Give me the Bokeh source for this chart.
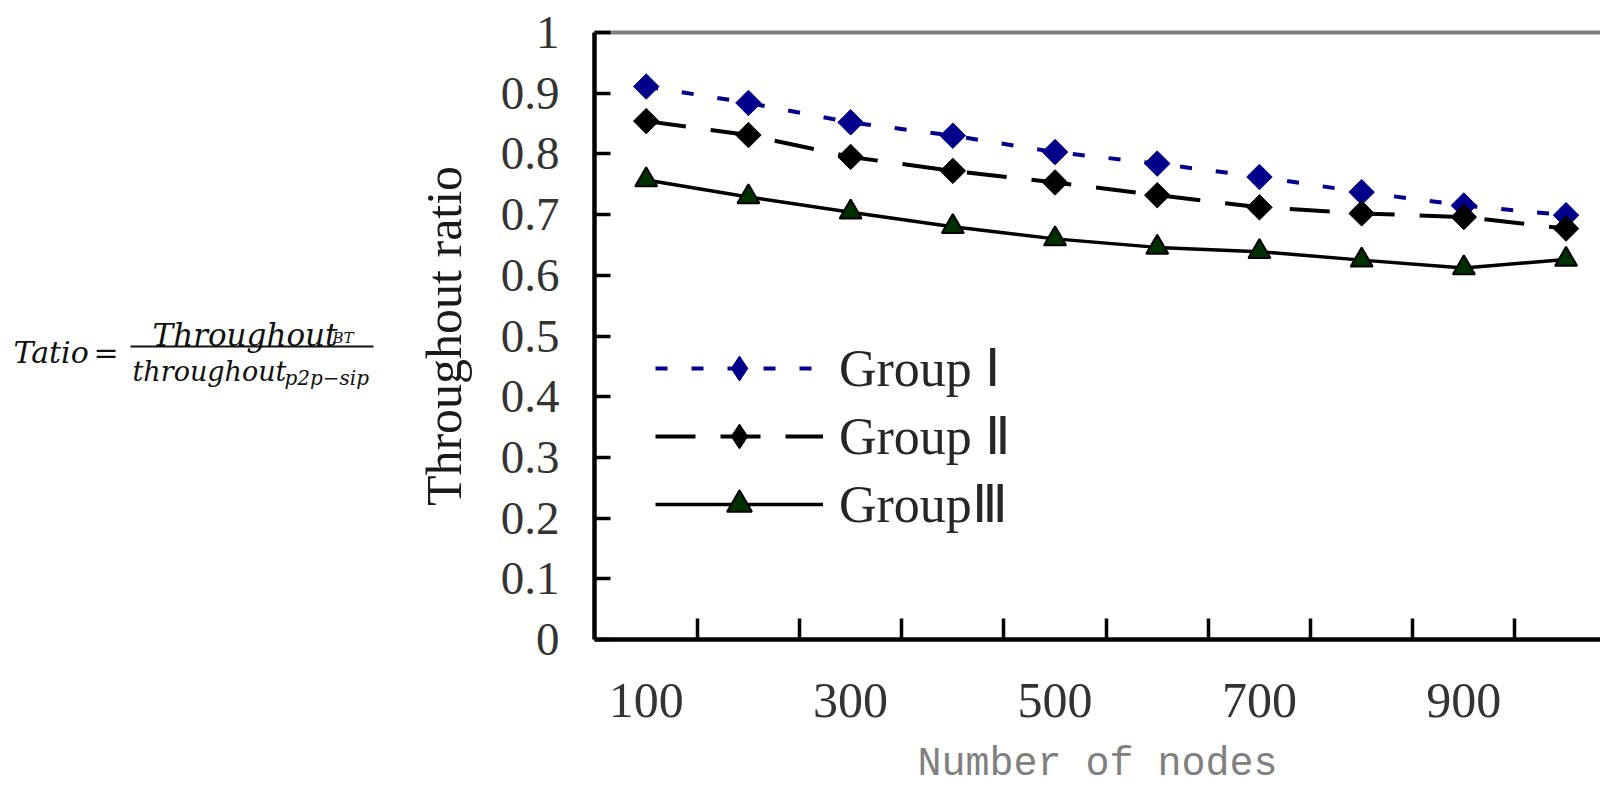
import math
from bokeh.plotting import figure
from bokeh.models import (Range1d, FixedTicker, LinearAxis, Legend, LegendItem)
from bokeh.layouts import row
from bokeh.embed import file_html
from bokeh.resources import INLINE
from bokeh.core.properties import value

# ---------------- data ----------------
nodes = [100, 200, 300, 400, 500, 600, 700, 800, 900, 1000]
group_1 = [0.911, 0.884, 0.852, 0.830, 0.803, 0.784, 0.762, 0.737, 0.715, 0.699]
group_2 = [0.854, 0.831, 0.795, 0.772, 0.753, 0.732, 0.712, 0.702, 0.696, 0.677]
group_3 = [0.757, 0.729, 0.704, 0.680, 0.660, 0.646, 0.639, 0.625, 0.612, 0.626]
series_names = ["Group Ⅰ", "Group Ⅱ", "GroupⅢ"]
x_label_ticks = [100, 300, 500, 700, 900]
y_ticks = [0, 0.1, 0.2, 0.3, 0.4, 0.5, 0.6, 0.7, 0.8, 0.9, 1]
y_tick_labels = ["0", "0.1", "0.2", "0.3", "0.4", "0.5", "0.6", "0.7", "0.8", "0.9", "1"]
x_axis_title = "Number of nodes"
y_axis_title = "Throughout ratio"
formula_lhs = "Tatio"
formula_num = "Throughout"
formula_num_sub = "BT"
formula_den = "throughout"
formula_den_sub = "p2p−sip"

# tick marks sit on the boundaries between the node categories
x_boundaries = [(a + b) / 2 for a, b in zip(nodes, nodes[1:])]

SERIF = "Liberation Serif"
NAVY = "#00008B"
H = 789
BORDER_TOP = 32
BORDER_BOTTOM = 148
FRAME_BOTTOM = H - BORDER_BOTTOM

# ---------------- formula panel (pixel coordinates) ----------------
f = figure(width=400, height=H, x_range=Range1d(0, 400),
           y_range=Range1d(FRAME_BOTTOM, BORDER_TOP),
           output_backend="svg", toolbar_location=None,
           x_axis_location=None, y_axis_location=None,
           min_border_left=0, min_border_right=0,
           min_border_top=BORDER_TOP, min_border_bottom=BORDER_BOTTOM)
f.outline_line_color = None
f.grid.visible = False

INK = "#111111"
f.text(x=[13], y=[353], text=[formula_lhs], text_font=value("DejaVu Serif"),
       text_font_style="italic", text_font_size="30px", text_color=INK,
       text_baseline="alphabetic", text_align="left")
f.text(x=[93], y=[353], text=["="], text_font=value("DejaVu Serif"),
       text_font_size="30px", text_color=INK,
       text_baseline="alphabetic", text_align="left")
f.text(x=[152], y=[335], text=[formula_num], text_font=value("DejaVu Serif"),
       text_font_style="italic", text_font_size="31px", text_color=INK,
       text_baseline="alphabetic", text_align="left")
f.text(x=[332], y=[339], text=[formula_num_sub], text_font=value("DejaVu Serif"),
       text_font_style="italic", text_font_size="15px", text_color=INK,
       text_baseline="alphabetic", text_align="left")
f.text(x=[132], y=[372], text=[formula_den], text_font=value("DejaVu Serif"),
       text_font_style="italic", text_font_size="27px", text_color=INK,
       text_baseline="alphabetic", text_align="left")
f.text(x=[284], y=[379], text=[formula_den_sub], text_font=value("DejaVu Serif"),
       text_font_style="italic", text_font_size="20px", text_color=INK,
       text_baseline="alphabetic", text_align="left")
f.segment(x0=[130], y0=[347], x1=[373], y1=[347], line_color=INK, line_width=2)

# ---------------- chart ----------------
p = figure(width=1200, height=H, x_range=Range1d(49.4, 1033.7), y_range=Range1d(0, 1),
           output_backend="svg", toolbar_location=None,
           x_axis_location=None, y_axis_location=None,
           min_border_left=194, min_border_right=0,
           min_border_top=BORDER_TOP, min_border_bottom=BORDER_BOTTOM)
p.outline_line_color = None
p.grid.visible = False
p.background_fill_color = "white"

xaxis = LinearAxis(ticker=FixedTicker(ticks=x_label_ticks, minor_ticks=x_boundaries))
xaxis.axis_line_color = "black"
xaxis.axis_line_width = 4.5
xaxis.major_tick_line_color = None
xaxis.major_tick_in = 0
xaxis.major_tick_out = 0
xaxis.minor_tick_line_color = "black"
xaxis.minor_tick_line_width = 3.5
xaxis.minor_tick_in = 21
xaxis.minor_tick_out = 0
xaxis.major_label_text_font = SERIF
xaxis.major_label_text_font_size = "50px"
xaxis.major_label_text_color = "#333333"
xaxis.major_label_standoff = 44
xaxis.axis_label = x_axis_title
xaxis.axis_label_text_font = "Liberation Mono"
xaxis.axis_label_text_font_size = "40px"
xaxis.axis_label_text_font_style = "normal"
xaxis.axis_label_text_color = "#808080"
xaxis.axis_label_standoff = 22
p.add_layout(xaxis, "below")

yaxis = LinearAxis(ticker=FixedTicker(ticks=y_ticks),
                   major_label_overrides=dict(zip(y_ticks, y_tick_labels)))
yaxis.axis_line_color = "black"
yaxis.axis_line_width = 4.5
yaxis.major_tick_line_color = "black"
yaxis.major_tick_line_width = 3.5
yaxis.major_tick_in = 16
yaxis.major_tick_out = 0
yaxis.minor_tick_line_color = None
yaxis.major_label_text_font = SERIF
yaxis.major_label_text_font_size = "47px"
yaxis.major_label_text_color = "#333333"
yaxis.major_label_standoff = 35
yaxis.axis_label = y_axis_title
yaxis.axis_label_text_font = SERIF
yaxis.axis_label_text_font_size = "50px"
yaxis.axis_label_text_font_style = "normal"
yaxis.axis_label_text_color = "#1a1a1a"
yaxis.axis_label_standoff = 26
p.add_layout(yaxis, "left")

top = LinearAxis(ticker=FixedTicker(ticks=[]))
top.axis_line_color = "#808080"
top.axis_line_width = 4
top.major_tick_line_color = None
top.minor_tick_line_color = None
top.major_label_text_font_size = "0px"
p.add_layout(top, "above")

l1 = p.line(nodes, group_1, line_color=NAVY, line_width=4, line_dash="12 24")
p.scatter(nodes, group_1, marker="square", angle=math.pi / 4, size=18,
          fill_color=NAVY, line_color=NAVY)
l2 = p.line(nodes, group_2, line_color="black", line_width=4, line_dash="40 25")
p.scatter(nodes, group_2, marker="square", angle=math.pi / 4, size=18,
          fill_color="black", line_color="black")
l3 = p.line(nodes, group_3, line_color="black", line_width=3.5)
s3 = p.scatter(nodes, group_3, marker="triangle", size=22,
               fill_color="#003000", line_color="black", line_width=2)

# hidden diamond renderers of the same series: only used to draw the legend key
k1 = p.scatter(nodes, group_1, marker="diamond", size=25, fill_color=NAVY,
               line_color=NAVY, visible=False)
k2 = p.scatter(nodes, group_2, marker="diamond", size=25, fill_color="black",
               line_color="black", visible=False)

legend = Legend(items=[
    LegendItem(label=series_names[0], renderers=[l1, k1]),
    LegendItem(label=series_names[1], renderers=[l2, k2]),
    LegendItem(label=series_names[2], renderers=[l3, s3]),
])
legend.location = (61, 104)
legend.margin = 0
legend.padding = 0
legend.border_line_alpha = 0
legend.background_fill_alpha = 0
legend.inactive_fill_alpha = 0
legend.glyph_width = 168
legend.glyph_height = 62
legend.label_height = 62
legend.spacing = 6
legend.label_standoff = 16
legend.label_text_font = SERIF
legend.label_text_font_size = "52px"
legend.label_text_color = "#262626"
p.add_layout(legend)

layout = row(f, p)
open("out.html", "w").write(file_html(layout, INLINE))
